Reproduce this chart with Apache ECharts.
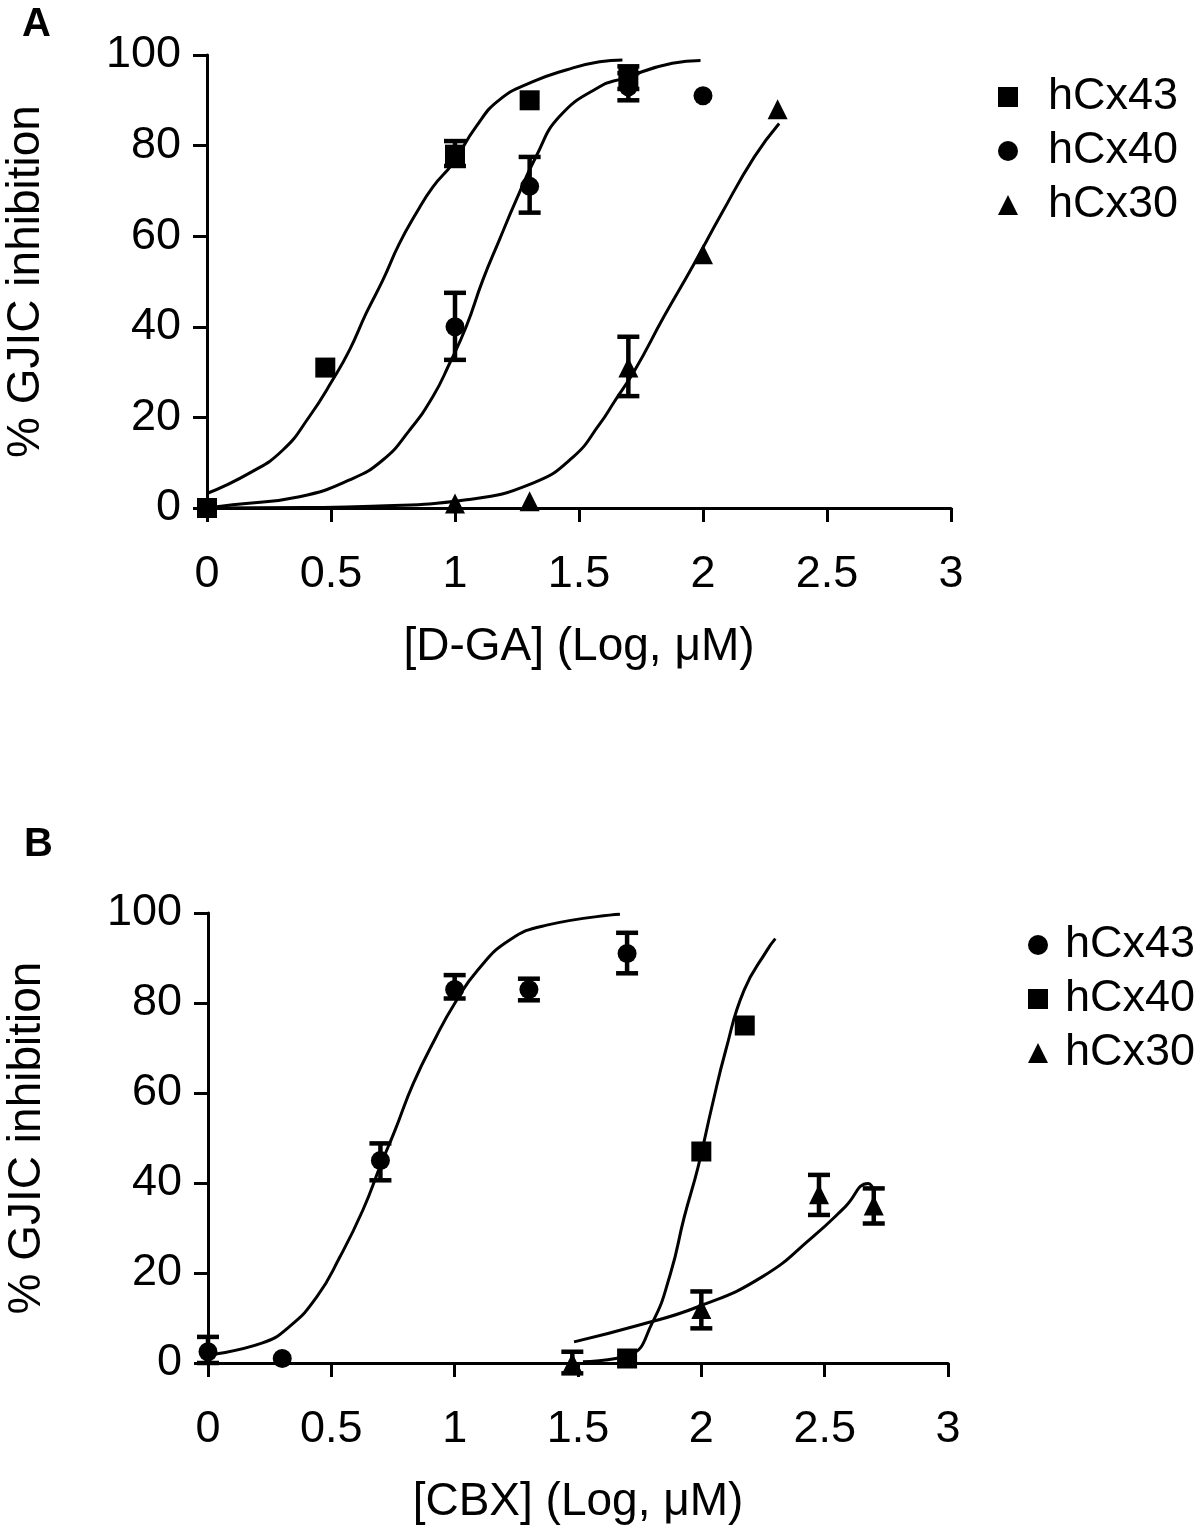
<!DOCTYPE html>
<html>
<head>
<meta charset="utf-8">
<script src="https://cdn.jsdelivr.net/npm/echarts@6/dist/echarts.min.js"></script>
<style>
html,body{margin:0;padding:0;background:#fff;}
#chart{width:1199px;height:1538px;}
</style>
</head>
<body>
<div id="chart"></div>
<script>
// ---------- Panel A : D-GA ----------
const A_cx43 = [[0,0],[0.477,31],[1,78],[1.301,90],[1.699,95]];
const A_cx40 = [[0,0],[1,40],[1.301,71],[1.699,93],[2,91]];
const A_cx30 = [[0,0],[1,1],[1.301,1.5],[1.699,31],[2,56],[2.301,88]];
const A_err = [[1,75.5,81],[1.699,92.5,97.5],[1.699,90,96],[1,32.7,47.5],[1.301,65.2,77.5],[1.699,24.7,37.8]];
const A_fit43 = [[0,3.2],[0.171,7.7],[0.306,12.8],[0.413,20.2],[0.507,28.3],[0.575,34.9],[0.642,43],[0.709,50.3],[0.776,58.4],[0.844,65.1],[0.911,70.9],[0.991,76.1],[1.085,84.2],[1.179,90.1],[1.314,94.1],[1.448,96.7],[1.583,98.5],[1.675,98.9]];
const A_fit40 = [[0,0],[0.104,0.7],[0.373,2.5],[0.575,6.2],[0.709,10.6],[0.817,17.2],[0.911,24.6],[0.978,31.9],[1.045,40],[1.112,50.3],[1.179,59.2],[1.247,68],[1.327,77.6],[1.421,86.4],[1.583,93],[1.677,94.8],[1.876,98.2],[1.99,98.8]];
const A_fit30 = [[0,0],[0.4,0.1],[0.664,0.4],[1.046,1.8],[1.314,5.5],[1.477,11.3],[1.583,18.5],[1.643,23.5],[1.726,30.5],[1.842,42.2],[1.958,53.3],[2.075,65],[2.207,77.5],[2.307,84.9]];

// ---------- Panel B : CBX ----------
const B_cx43 = [[0,2.5],[0.301,1],[0.699,45],[1,83],[1.301,83],[1.699,91]];
const B_cx40 = [[1.699,1],[2,47],[2.176,75]];
const B_cx30 = [[1.477,0],[2,12],[2.477,37.5],[2.699,35]];
const B_err = [[0,0,5.8],[0.699,40.6,48.8],[1,81,86.2],[1.301,80.6,85.4],[1.699,86.6,95.6],[1.477,-2.3,2.5],[2,7.7,15.9],[2.477,32.9,41.8],[2.699,31,38.8]];
const B_fit43 = [[0,1.8],[0.218,4.4],[0.33,8.1],[0.441,14.7],[0.535,23.6],[0.628,34],[0.702,44.3],[0.758,51.7],[0.832,62.1],[0.925,72.5],[1,79.9],[1.093,87.3],[1.223,94],[1.373,97.3],[1.67,99.7]];
const B_fit40 = [[1.52,0.3],[1.708,1.8],[1.8,8.8],[1.875,19.9],[1.931,32.5],[1.987,43.6],[2.043,57],[2.099,69.5],[2.173,82.8],[2.266,91.7],[2.3,94.3]];
const B_fit30 = [[1.484,4.7],[1.745,8.4],[1.987,12.5],[2.248,19.2],[2.453,28.1],[2.583,34.7],[2.676,39.9],[2.7,38.4]];

const xTitleA = '[D-GA] (Log, μM)';
const xTitleB = '[CBX] (Log, μM)';
const yTitle = '% GJIC inhibition';
const legendNames = ['hCx43','hCx40','hCx30'];

const FONT = '"Liberation Sans", Arial, Helvetica, sans-serif';

function xAxisCfg(idx, title){
  return {
    type:'value', gridIndex: idx, min:0, max:3, interval:0.5,
    axisLine:{show:true, onZero:false, lineStyle:{color:'#000', width:3}},
    axisTick:{show:true, inside:false, length:14, lineStyle:{color:'#000', width:3}},
    splitLine:{show:false},
    axisLabel:{color:'#000', fontSize:45, fontFamily:FONT, margin:44},
    name:title, nameLocation:'middle', nameGap:116,
    nameTextStyle:{color:'#000', fontSize:46, fontFamily:FONT}
  };
}
function yAxisCfg(idx){
  return {
    type:'value', gridIndex: idx, min:0, max:100, interval:20,
    axisLine:{show:true, lineStyle:{color:'#000', width:3}},
    axisTick:{show:true, inside:false, length:14, lineStyle:{color:'#000', width:3}},
    splitLine:{show:false},
    axisLabel:{color:'#000', fontSize:45, fontFamily:FONT, margin:26},
    name:yTitle, nameLocation:'middle', nameGap:158, nameRotate:90,
    nameTextStyle:{color:'#000', fontSize:46, fontFamily:FONT}
  };
}
function scat(name, idx, data, sym, size){
  return {type:'scatter', name:name, xAxisIndex:idx, yAxisIndex:idx, data:data,
    symbol:sym, symbolSize:size, itemStyle:{color:'#000', opacity:1}, z:5};
}
function fit(idx, data){
  return {type:'line', xAxisIndex:idx, yAxisIndex:idx, data:data, smooth:0.5,
    showSymbol:false, symbol:'none', lineStyle:{color:'#000', width:3}, z:3, silent:true};
}
function errs(idx, data){
  return {type:'custom', xAxisIndex:idx, yAxisIndex:idx, data:data, clip:false, z:4,
    encode:{x:0, y:[1,2]},
    renderItem:function(params, api){
      const x = api.value(0);
      const lo = api.coord([x, api.value(1)]);
      const hi = api.coord([x, api.value(2)]);
      const w = 11;
      const st = {stroke:'#000', lineWidth:4.5};
      return {type:'group', children:[
        {type:'line', shape:{x1:lo[0], y1:lo[1], x2:hi[0], y2:hi[1]}, style:st},
        {type:'line', shape:{x1:lo[0]-w, y1:lo[1], x2:lo[0]+w, y2:lo[1]}, style:st},
        {type:'line', shape:{x1:hi[0]-w, y1:hi[1], x2:hi[0]+w, y2:hi[1]}, style:st}
      ]};
    }};
}

const chart = echarts.init(document.getElementById('chart'), null, {renderer:'canvas'});
chart.setOption({
  backgroundColor:'#fff',
  animation:false,
  title:[
    {text:'A', left:17, top:0, textStyle:{fontSize:40, fontWeight:'bold', fontFamily:FONT, color:'#000'}},
    {text:'B', left:19, top:820, textStyle:{fontSize:40, fontWeight:'bold', fontFamily:FONT, color:'#000'}}
  ],
  legend:[
    {orient:'vertical', left:993, top:68, itemWidth:20, itemHeight:20, itemGap:6,
     data:['A|hCx43','A|hCx40','A|hCx30'],
     formatter:function(n){return n.split('|')[1];},
     textStyle:{fontSize:45, fontFamily:FONT, color:'#000', padding:[0,0,0,25], lineHeight:48}},
    {orient:'vertical', left:1023, top:916, itemWidth:20, itemHeight:20, itemGap:6,
     data:['B|hCx43','B|hCx40','B|hCx30'],
     formatter:function(n){return n.split('|')[1];},
     textStyle:{fontSize:45, fontFamily:FONT, color:'#000', padding:[0,0,0,12], lineHeight:48}}
  ],
  grid:[
    {left:207, right:248, top:55, height:453, containLabel:false, outerBoundsMode:'none'},
    {left:208, right:251, top:913, height:450, containLabel:false, outerBoundsMode:'none'}
  ],
  xAxis:[xAxisCfg(0, xTitleA), xAxisCfg(1, xTitleB)],
  yAxis:[yAxisCfg(0), yAxisCfg(1)],
  series:[
    fit(0, A_fit43), fit(0, A_fit40), fit(0, A_fit30),
    errs(0, A_err),
    scat('A|hCx43', 0, A_cx43, 'rect', 20),
    scat('A|hCx40', 0, A_cx40, 'circle', 19),
    scat('A|hCx30', 0, A_cx30, 'triangle', 20),
    fit(1, B_fit43), fit(1, B_fit40), fit(1, B_fit30),
    errs(1, B_err),
    scat('B|hCx43', 1, B_cx43, 'circle', 19),
    scat('B|hCx40', 1, B_cx40, 'rect', 20),
    scat('B|hCx30', 1, B_cx30, 'triangle', 20)
  ]
});
</script>
</body>
</html>
